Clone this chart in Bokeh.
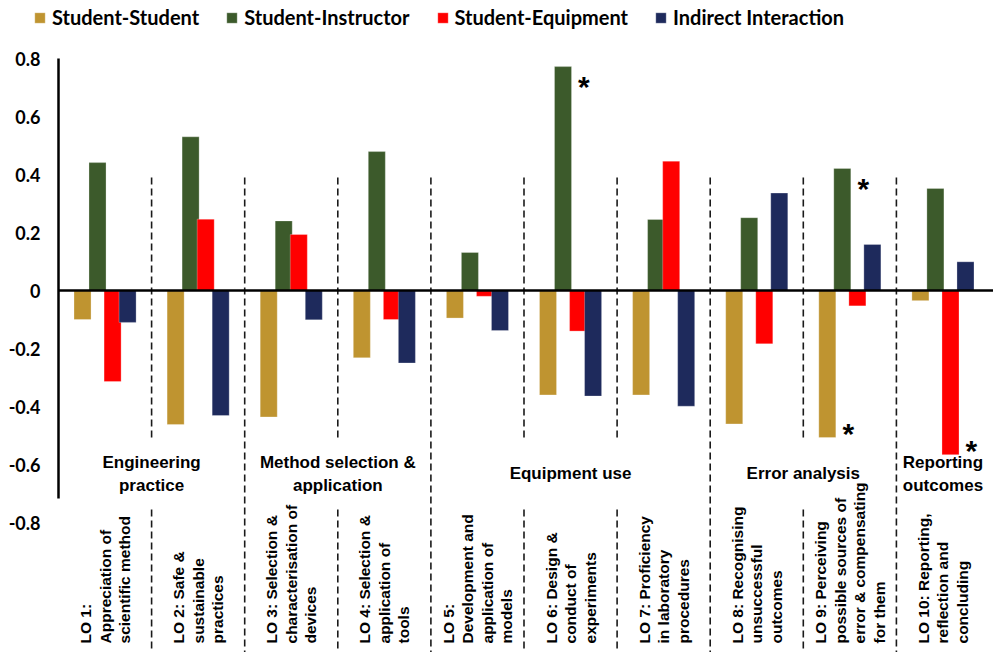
import numpy as np
from bokeh.plotting import figure
from bokeh.models import Range1d, FixedTicker, Legend, LegendItem, Span
from bokeh.core.properties import value
from bokeh.embed import file_html
from bokeh.resources import INLINE

# ---------------- data ----------------
lo_labels = [
    "LO 1:\nAppreciation of\nscientific method",
    "LO 2: Safe &\nsustainable\npractices",
    "LO 3: Selection &\ncharacterisation of\ndevices",
    "LO 4: Selection &\napplication of\ntools",
    "LO 5:\nDevelopment and\napplication of\nmodels",
    "LO 6: Design &\nconduct of\nexperiments",
    "LO 7: Proficiency\nin laboratory\nprocedures",
    "LO 8: Recognising\nunsuccessful\noutcomes",
    "LO 9: Perceiving\npossible sources of\nerror & compensating\nfor them",
    "LO 10:  Reporting,\nreflection and\nconcluding",
]
series_names = ["Student-Student", "Student-Instructor", "Student-Equipment", "Indirect Interaction"]
student_student = [-0.100, -0.462, -0.436, -0.232, -0.095, -0.360, -0.360, -0.460, -0.507, -0.035]
student_instructor = [0.441, 0.530, 0.240, 0.479, 0.131, 0.772, 0.245, 0.251, 0.421, 0.352]
student_equipment = [-0.314, 0.246, 0.193, -0.100, -0.020, -0.140, 0.446, -0.184, -0.053, -0.566]
indirect_interaction = [-0.110, -0.431, -0.101, -0.250, -0.138, -0.364, -0.399, 0.336, 0.159, 0.099]
series_values = [student_student, student_instructor, student_equipment, indirect_interaction]

y_ticks = [-0.8, -0.6, -0.4, -0.2, 0, 0.2, 0.4, 0.6, 0.8]
y_tick_labels = ["-0.8", "-0.6", "-0.4", "-0.2", "0", "0.2", "0.4", "0.6", "0.8"]

# outcome groups: (label, first LO index, last LO index)
outcome_groups = [
    ("Engineering\npractice", 0, 1),
    ("Method selection &\napplication", 2, 3),
    ("Equipment use", 4, 6),
    ("Error analysis", 7, 8),
    ("Reporting\noutcomes", 9, 9),
]
# significant results marked with * : (LO index, series index)
significant = [(5, 1), (8, 1), (8, 0), (9, 2)]

# ---------------- style ----------------
colors = ["#BF9430", "#3C5A2B", "#FF0000", "#1E2A5C"]
W, H = 993, 652
BORDER_L = 22          # frame starts here; tick labels are pulled to the left of the drawn axis line
AXIS_PX = 58           # pixel column of the drawn y-axis line
PX_X = 93.1            # px per group
PX_Y = 290.0           # px per unit value
x_start = -(AXIS_PX - BORDER_L) / PX_X
x_end = x_start + (W - BORDER_L) / PX_X
y_top = 290 / PX_Y
y_bot = y_top - H / PX_Y
offsets = [-0.242, -0.081, 0.081, 0.242]
bar_w = 0.183
AXIS_BOTTOM = -0.717
SEP_TOP, SEP_MID_BOT, SEP_LOW_TOP = 0.39, -0.51, -0.755
BOLD_SANS = "Liberation Sans"

p = figure(width=W, height=H, x_range=Range1d(x_start, x_end), y_range=Range1d(y_bot, y_top),
           x_axis_type=None, output_backend="svg", toolbar_location=None,
           min_border_left=BORDER_L, min_border_right=0, min_border_top=0, min_border_bottom=0)
p.grid.visible = False
p.outline_line_color = None

ya = p.yaxis[0]
ya.ticker = FixedTicker(ticks=y_ticks)
ya.major_label_overrides = dict(zip(y_ticks, y_tick_labels))
ya.axis_line_color = None
ya.major_tick_line_color = None
ya.minor_tick_line_color = None
ya.major_tick_in = 0
ya.major_tick_out = 0
ya.major_label_standoff = -18
ya.major_label_text_font = "Lato"
ya.major_label_text_font_style = "bold"
ya.major_label_text_font_size = "18px"
ya.major_label_text_color = "black"

n = len(lo_labels)
centers = np.arange(n) + 0.5

# dashed separators
major_bounds = [g[2] + 1 for g in outcome_groups[:-1]]
sx0, sy0, sy1 = [], [], []
for b in range(1, n):
    if b in major_bounds:
        sx0.append(b); sy0.append(SEP_TOP); sy1.append(y_bot - 0.05)
    else:
        sx0 += [b, b]; sy0 += [SEP_TOP, SEP_LOW_TOP]; sy1 += [SEP_MID_BOT, y_bot - 0.05]
p.segment(x0=sx0, y0=sy0, x1=sx0, y1=sy1, line_color="#1a1a1a", line_width=1.6, line_dash="7 4")

# bars
renderers = []
for vals, off, col in zip(series_values, offsets, colors):
    r = p.vbar(x=centers + off, top=vals, bottom=0, width=bar_w, fill_color=col,
               line_color="white", line_alpha=0.35, line_width=0.8)
    renderers.append(r)

# zero line and y axis line
p.segment(x0=[0], y0=[0], x1=[x_end], y1=[0], line_color="black", line_width=2.5)
p.segment(x0=[0], y0=[AXIS_BOTTOM], x1=[0], y1=[y_ticks[-1]], line_color="black", line_width=2.5)

# asterisks
ax, ay = [], []
for lo, si in significant:
    v = series_values[si][lo]
    ax.append(centers[lo] + offsets[si] + 0.225)
    ay.append(v - 0.07 if v > 0 else v + 0.015)
p.text(x=ax, y=ay, text=["*"] * len(ax), text_font=value(BOLD_SANS), text_font_size="30px",
       text_font_style="bold", text_align="center", text_baseline="middle", text_color="black")

# group labels
gx = [np.mean(centers[a:b + 1]) for _, a, b in outcome_groups]
p.text(x=gx, y=[-0.632] * len(gx), text=[g[0] for g in outcome_groups], text_font=value(BOLD_SANS),
       text_font_size="17px", text_font_style="bold", text_align="center", text_baseline="middle",
       text_line_height=1.2, text_color="black")

# category labels (rotated)
p.text(x=centers, y=[-1.2172] * n, text=lo_labels, angle=np.pi / 2, text_font=value(BOLD_SANS),
       text_font_size="15.5px", text_font_style="bold", text_align="left", text_baseline="middle",
       text_line_height=1.15, text_color="black")

legend = Legend(items=[LegendItem(label=nm, renderers=[r]) for nm, r in zip(series_names, renderers)],
                orientation="horizontal", location=(33 - BORDER_L, H - 29), glyph_width=13, glyph_height=13,
                label_standoff=6, spacing=26, padding=0, margin=0, border_line_color=None,
                background_fill_alpha=0, label_text_font="Lato", label_text_font_style="bold",
                label_text_font_size="20px", label_text_color="black")
p.add_layout(legend)

open("out.html", "w").write(file_html(p, INLINE))
